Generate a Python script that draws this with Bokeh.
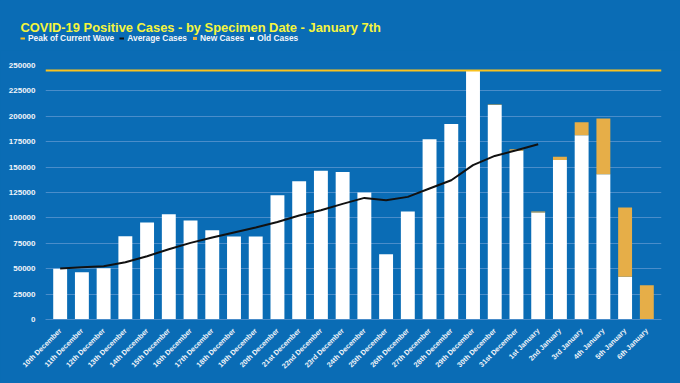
import math
from bokeh.plotting import figure
from bokeh.layouts import column
from bokeh.models import (Span, Label, Legend, LegendItem, Range1d, FactorRange,
                          SingleIntervalTicker, PrintfTickFormatter, ColumnDataSource)
from bokeh.embed import file_html
from bokeh.resources import INLINE

dates = ["10th December", "11th December", "12th December", "13th December", "14th December",
         "15th December", "16th December", "17th December", "18th December", "19th December",
         "20th December", "21st December", "22nd December", "23rd December", "24th December",
         "25th December", "26th December", "27th December", "28th December", "29th December",
         "30th December", "31st December", "1st January", "2nd January", "3rd January",
         "4th January", "5th January", "6th January"]
old_cases = [50000, 46500, 50500, 82000, 95500, 103600, 97400, 87900, 81700, 81700,
             122300, 136100, 146300, 145300, 125000, 64300, 106300, 177500, 192500, 244500,
             211000, 166000, 105300, 157100, 181400, 143000, 42000, 0]
new_cases = [0, 0, 0, 0, 0, 0, 0, 0, 0, 0,
             0, 0, 0, 0, 0, 0, 0, 0, 0, 500,
             700, 1500, 1000, 3000, 12800, 54800, 68200, 33800]
average_dates = dates[:23]
average_cases = [50200, 51500, 52500, 56400, 62300, 69200, 75400, 80700, 85600, 90500,
                 96000, 102300, 107600, 113800, 119700, 117400, 120700, 128900, 137100,
                 151900, 161000, 166600, 172500]
peak_value = 245000
y_max = 250000
y_step = 25000
title_text = "COVID-19 Positive Cases - by Specimen Date - January 7th"
legend_labels = ["Peak of Current Wave", "Average Cases", "New Cases", "Old Cases"]

BG = "#0A6CB5"
GRID = "#4A8DCA"
GOLD = "#F9C21E"
ORANGE = "#E6AE48"
YELLOW = "#F5F53D"
TXT = "#F2F5FA"
FONT = "Liberation Sans"
W, HEAD_H, MAIN_H = 680, 50, 333

# ---- header: title + legend ----
head = figure(width=W, height=HEAD_H, x_range=Range1d(0, W), y_range=Range1d(0, HEAD_H),
              x_axis_type=None, y_axis_type=None, output_backend="svg", toolbar_location=None,
              background_fill_color=BG, border_fill_color=BG, outline_line_color=None,
              min_border=0, frame_align=False, styles={"background-color": BG})
head.grid.visible = False
head.add_layout(Label(x=20, y=16, text=title_text, text_color=YELLOW,
                      text_font_size="12.9px", text_font_style="bold", text_font=FONT))
lg_peak = head.line(x=[-10, -5], y=[-10, -10], line_color=GOLD, line_width=2)
lg_avg = head.line(x=[-10, -5], y=[-10, -10], line_color="#111111", line_width=2)
lg_new = head.vbar(x=[-10], top=[-10], width=1, fill_color=ORANGE, line_color=None)
lg_old = head.vbar(x=[-10], top=[-10], width=1, fill_color="white", line_color=None)
legend = Legend(items=[LegendItem(label=legend_labels[0], renderers=[lg_peak]),
                       LegendItem(label=legend_labels[1], renderers=[lg_avg]),
                       LegendItem(label=legend_labels[2], renderers=[lg_new]),
                       LegendItem(label=legend_labels[3], renderers=[lg_old])],
                location=(20, 7), orientation="horizontal",
                background_fill_alpha=0, border_line_color=None,
                label_text_color=TXT, label_text_font_size="8.4px", label_text_font_style="bold",
                label_text_font=FONT, glyph_width=5, glyph_height=4, label_standoff=3,
                spacing=5, padding=0, margin=0, label_height=10)
head.add_layout(legend)

# ---- main chart ----
p = figure(x_range=FactorRange(factors=dates, range_padding=0.175, range_padding_units="absolute"),
           y_range=Range1d(0, y_max), width=W, height=MAIN_H,
           output_backend="svg", toolbar_location=None,
           background_fill_color=BG, border_fill_color=BG,
           min_border_left=45, min_border_right=19, min_border_top=15, min_border_bottom=64,
           outline_line_color=None, frame_align=False, styles={"background-color": BG})

src = ColumnDataSource(dict(dates=dates, old=old_cases, new=new_cases))
bars = p.vbar_stack(["old", "new"], x="dates", width=0.64, source=src,
                    fill_color=["white", ORANGE], line_color=None)
p.line(average_dates, average_cases, line_color="#111111", line_width=2)
p.add_layout(Span(location=peak_value, dimension="width", line_color=GOLD, line_width=2))

p.xaxis.major_label_orientation = math.pi / 4
p.xaxis.major_label_text_font_size = "7.2px"
p.xaxis.major_label_text_font_style = "bold"
p.xaxis.major_label_text_color = TXT
p.xaxis.major_label_text_font = FONT
p.xaxis.major_tick_line_color = None
p.xaxis.minor_tick_line_color = None
p.xaxis.axis_line_color = GRID
p.xaxis.major_label_standoff = 4

p.yaxis.ticker = SingleIntervalTicker(interval=y_step)
p.yaxis.formatter = PrintfTickFormatter(format="%d")
p.yaxis.major_label_text_font_size = "8px"
p.yaxis.major_label_text_font_style = "bold"
p.yaxis.major_label_text_color = TXT
p.yaxis.major_label_text_font = FONT
p.yaxis.axis_line_color = None
p.yaxis.major_tick_line_color = None
p.yaxis.minor_tick_line_color = None
p.yaxis.major_label_standoff = 4

p.xgrid.grid_line_color = None
p.ygrid.ticker = SingleIntervalTicker(interval=y_step)
p.ygrid.grid_line_color = GRID

layout = column(head, p, spacing=0, styles={"background-color": BG})
open("out.html", "w").write(file_html(layout, INLINE))
